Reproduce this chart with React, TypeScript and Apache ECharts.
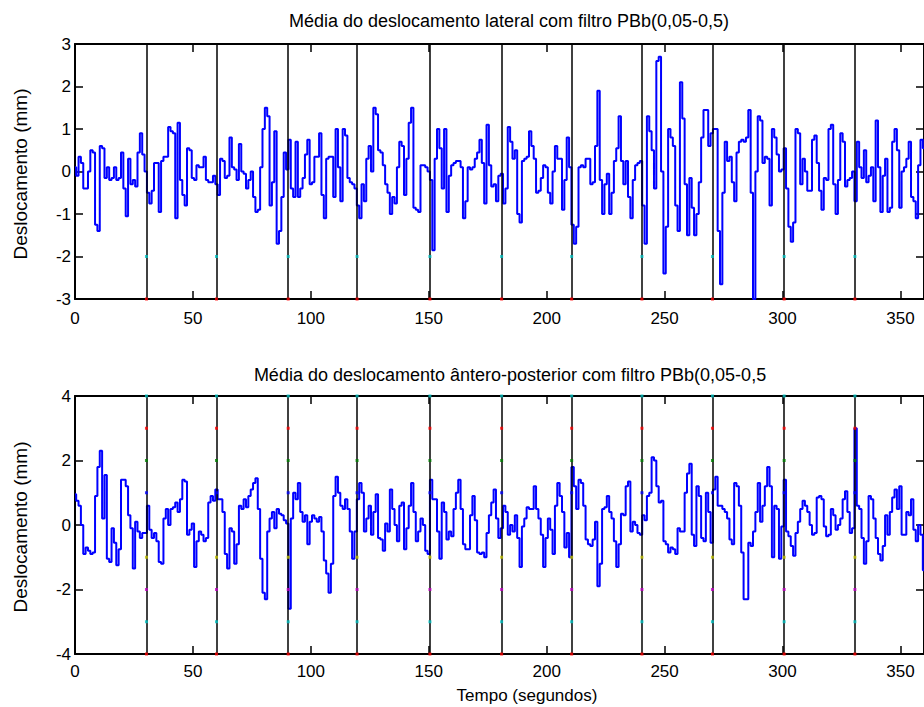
import React, { useEffect, useRef } from "react";
import * as echarts from "echarts";

// sampling step of the signals (seconds)
const timeStep = 1;

// Lateral displacement (mm), one value per second, t = 0..360
const lateralValues = [
  0.1, -0.1, 0.35, 0.2, -0.4, -0.4, 0.0, 0.5, 0.45, -1.25,
  -1.4, 0.6, 0.55, -0.15, 0.1, -0.2, -0.15, 0.1, -0.2, -0.15,
  0.45, -0.4, -1.05, 0.3, -0.3, -0.2, -0.35, 0.45, 0.9, 0.4,
  0.0, -0.5, -0.75, -0.45, 0.2, 0.2, -0.95, 0.25, 0.35, 0.35,
  1.05, 0.95, 0.9, -1.1, 1.15, -0.2, -0.55, -0.8, 0.55, 0.5,
  -0.15, -0.2, 0.15, 0.1, 0.1, 0.35, -0.2, -0.25, -0.25, -0.1,
  -0.3, -0.55, 0.3, 0.25, -0.15, -0.1, 0.8, 0.1, 0.05, -0.2,
  0.65, 0.0, -0.05, -0.4, -0.2, 0.0, -0.6, -0.95, -0.9, 0.1,
  1.0, 1.5, 1.3, -0.8, -0.25, 0.95, -1.7, -1.4, -0.6, 0.45,
  0.05, 0.75, -0.4, -0.6, 0.7, -0.6, -0.4, -0.15, 0.4, 0.75,
  -0.3, -0.25, 0.35, 0.35, 0.9, -0.55, -1.1, 0.3, 0.35, 0.35,
  -0.6, 1.0, 0.1, -0.7, 1.0, 0.85, -0.15, -0.25, -0.3, -0.4,
  -0.8, -1.1, -0.3, -0.7, 0.3, 0.6, 0.0, 1.5, 1.35, 0.5,
  0.45, 0.15, -0.3, -0.5, -1.0, -0.6, -0.75, 0.1, 0.7, 0.6,
  -0.55, 0.3, 1.15, 1.5, -0.85, -0.9, -0.95, 0.15, 0.15, 0.1,
  0.0, -0.2, -1.85, 0.3, 1.0, 0.55, -0.4, 1.0, -0.95, -0.1,
  0.15, 0.2, 0.25, 0.25, 0.1, -1.1, -0.7, 0.1, 0.05, 0.1,
  0.3, 0.45, 0.75, 0.2, -0.75, 1.1, 0.15, -0.35, -0.3, -0.7,
  -0.1, -0.05, -0.75, -0.4, 1.05, 0.7, 0.3, 0.5, -1.0, -1.2,
  0.25, 0.3, 0.35, 0.95, 0.6, 0.3, -0.5, -0.45, -0.15, 0.15,
  0.1, -0.5, -0.75, 0.0, 0.6, 0.3, 0.3, -0.9, -0.2, 0.8,
  0.1, -1.25, -1.7, -1.3, 0.1, 0.15, 0.1, 0.3, 0.3, -0.3,
  -0.25, 0.6, 1.9, -0.2, -1.0, -0.3, -0.05, -1.0, -0.5, 0.25,
  0.55, 1.3, 0.25, -0.3, 0.25, -0.6, -1.1, -0.2, 0.15, 0.2,
  0.25, -0.8, -1.7, 1.3, 0.95, 0.5, -0.4, 2.6, 2.7, 0.0,
  -2.4, -1.3, 1.0, 0.8, 0.6, -0.8, -1.4, 2.1, 1.25, -0.3,
  -1.5, -0.15, -0.85, -1.5, -1.0, -0.25, 0.8, 1.45, 1.45, 0.6,
  0.9, 1.0, 1.0, -1.4, -2.65, -0.5, 0.7, 0.25, 0.35, -0.25,
  -0.7, 0.45, 0.7, 0.75, 0.7, 0.8, 1.45, -0.5, -3.0, 0.0,
  1.3, 1.2, 0.2, 0.35, 0.3, -0.8, 1.0, 0.8, 0.4, 0.0,
  0.05, 0.55, -0.4, -1.3, -1.65, -1.2, 1.0, 0.9, -0.3, 0.3,
  0.0, -0.45, -0.45, 0.75, 0.85, 0.2, -0.45, -0.9, -0.15, -0.2,
  1.0, 1.1, -0.3, -1.0, -0.2, 0.9, 0.7, -0.35, -0.2, -0.15,
  0.0, -0.7, 0.7, 0.1, -0.15, 0.5, -0.25, -0.1, 0.1, -0.7,
  1.2, 0.1, -0.95, -0.1, 0.3, -0.95, -0.85, 0.7, 1.0, 0.5,
  -0.85, 0.0, 0.1, 0.3, 0.7, -0.6, -0.7, -1.1, 0.15, 0.75, 0.55,
];

// Antero-posterior displacement (mm), one value per second, t = 0..360
const apValues = [
  0.95, 0.75, 0.6, 0.0, -0.9, -0.7, -0.8, -0.9, -0.85, 0.9,
  1.8, 2.3, 0.2, 1.55, -1.05, -1.15, -0.1, -0.55, -1.25, -0.75,
  1.4, 1.4, 1.2, 0.3, -0.1, -1.35, 0.1, -0.2, -0.4, -0.25,
  -0.25, 0.6, -0.15, -0.4, -0.25, -0.5, -1.15, -1.2, 0.2, 0.5,
  0.0, 0.5, 0.55, 0.7, 0.4, 0.8, 1.4, 1.35, -0.3, -0.15,
  0.05, -1.3, -0.5, -0.2, -0.3, -0.5, -0.4, 0.7, 0.9, 0.75,
  1.1, 0.8, 0.8, 0.4, -0.9, -1.35, -0.1, -0.2, -1.2, -0.6,
  0.6, 0.5, 0.8, 0.55, 0.9, 1.1, 1.3, 1.45, 0.5, -1.05,
  -2.1, -2.3, -0.2, 0.2, 0.4, -0.1, 0.5, 0.35, 0.3, 0.15,
  0.05, -2.6, 0.2, 1.0, 0.8, 1.3, 0.4, 0.1, 0.3, -0.6,
  0.1, 0.3, 0.2, 0.1, 0.25, -0.2, -1.1, -1.5, -2.1, -1.2,
  0.9, 1.5, 1.0, 0.6, 0.5, 0.8, 0.5, -0.2, -1.05, -0.2,
  0.8, 1.3, 1.0, -0.2, 0.2, 0.6, -0.3, 0.4, 0.95, -0.4,
  -0.45, -0.8, 0.05, -0.2, 1.1, 0.5, 0.0, -0.5, 0.6, 0.7,
  -0.75, -0.1, 0.6, 1.3, 0.4, -0.5, -0.2, 0.2, 0.0, -0.8,
  -0.9, 1.4, 0.8, 0.8, -0.2, -1.05, 0.7, 0.4, -0.45, -0.2,
  -0.35, 0.5, 1.0, 1.4, 0.5, -0.6, -0.75, -0.75, 0.3, 0.9,
  0.15, -0.85, -0.9, -0.85, -1.0, -0.25, 0.3, 0.7, 1.1, 0.2,
  -0.4, -0.1, 0.6, 0.4, -0.3, 0.0, -0.2, 0.3, -0.4, -1.3,
  -0.05, 0.2, 0.55, 0.5, 0.5, 1.2, 0.5, 0.2, -0.3, -1.3,
  -0.4, 0.2, -0.15, -0.9, 0.6, 1.3, 0.9, 0.4, -0.7, -0.25,
  -1.0, 1.8, 1.2, 0.5, 1.4, 1.3, 0.6, -0.45, -0.6, -0.65,
  -0.45, 0.1, -1.9, -1.2, 0.5, 0.55, 0.9, 0.4, 0.2, -0.5,
  -1.3, -0.6, 0.35, 0.3, 1.2, 1.35, -0.2, 0.1, 0.0, -0.25,
  -0.3, 0.3, 0.15, 0.9, 1.0, 2.1, 2.0, 1.2, 0.7, 0.75,
  -0.5, -0.6, -0.85, -0.7, -0.75, -0.9, -0.1, -0.2, -0.2, 1.0,
  1.6, 1.9, -0.3, -0.65, 1.2, 0.9, -0.4, -0.5, 1.0, 0.4,
  -0.55, 1.1, 1.5, 0.6, 0.6, 0.5, 0.4, 0.2, -0.45, -0.6,
  1.3, 1.2, 0.6, -0.85, -2.3, -2.3, -0.55, -0.65, -0.2, 0.4,
  1.3, 0.1, 0.6, 1.2, 1.8, 1.2, -1.0, 0.6, 0.5, -1.05,
  -0.05, 1.4, -0.2, -0.35, -0.65, -0.95, -0.25, 0.1, 0.5, 0.75,
  0.6, 0.4, 0.0, -0.3, -0.25, 0.85, 0.9, 0.8, -0.05, -0.35,
  -0.3, 0.5, 0.3, -0.15, 0.0, 0.2, 0.8, 1.05, 0.4, -0.25,
  -0.1, 3.0, 0.6, 0.5, -0.4, -1.2, -0.5, 0.9, 0.8, 0.2,
  -0.4, -0.9, -1.1, -0.65, 0.3, -0.3, 0.4, 0.85, 1.1, 0.5,
  1.2, -0.3, -0.3, 0.4, 0.3, 0.8, -0.15, -0.5, 0.0, -0.3, -1.4,
];

// Boundaries between 30 s intervals (seconds)
const intervalBoundaries = [30.3, 60.0, 90.4, 119.6, 150.5, 180.9, 210.6, 240.4, 270.3, 300.7, 330.7];

// small markers drawn on each boundary
const lateralMarkerLevels = [-3, -2];
const lateralMarkerColors = ["#ff0000", "#00bfbf"];
const apMarkerLevels = [4, 3, 2, 1, -1, -2, -3, -4];
const apMarkerColors = ["#00bfbf", "#ff0000", "#008000", "#0000ff", "#bfbf00", "#bf00bf", "#00bfbf", "#ff0000"];

// axes
const xMin = 0;
const xMax = 360;
const xTickValues = [0, 50, 100, 150, 200, 250, 300, 350];
const lateralYRange = [-3, 3];
const lateralYInterval = 1;
const apYRange = [-4, 4];
const apYInterval = 2;

const titleLateral = "Média do deslocamento lateral com filtro PBb(0,05-0,5)";
const titleAP = "Média do deslocamento ântero-posterior com filtro PBb(0,05-0,5";
const yAxisTitle = "Deslocamento (mm)";
const xAxisTitle = "Tempo (segundos)";

const FONT = "'Liberation Sans', Arial, Helvetica, sans-serif";

export default function App() {
  const ref = useRef<HTMLDivElement>(null);

  useEffect(() => {
    if (!ref.current) return;
    const chart = echarts.init(ref.current, undefined, { renderer: "svg" });

    const toSeries = (vals: number[]) => vals.map((v, i) => [i * timeStep, v]);
    const markerData = (levels: number[], colors: string[]) => {
      const out: any[] = [];
      intervalBoundaries.forEach((t) => {
        levels.forEach((lv, k) => {
          out.push({ value: [t, lv], itemStyle: { color: colors[k] } });
        });
      });
      return out;
    };

    const axisLineStyle = { lineStyle: { color: "#000", width: 2 } };
    const tickStyle = { inside: true, length: 8, lineStyle: { color: "#000", width: 1.5 } };

    const mkX = (gridIndex: number, position: "top" | "bottom", labels: boolean, margin: number) => ({
      type: "value",
      gridIndex,
      position,
      min: xMin,
      max: xMax,
      axisLine: { show: true, onZero: false, ...axisLineStyle },
      axisTick: { show: true, ...tickStyle, customValues: xTickValues },
      axisLabel: {
        show: labels,
        customValues: xTickValues,
        color: "#000",
        fontSize: 17,
        fontFamily: FONT,
        margin,
        formatter: (v: number) => (v === xMax ? "" : String(v)),
      },
      splitLine: { show: false },
    });

    const mkY = (gridIndex: number, position: "left" | "right", labels: boolean, range: number[], interval: number) => ({
      type: "value",
      gridIndex,
      position,
      min: range[0],
      max: range[1],
      interval,
      axisLine: { show: true, onZero: false, ...axisLineStyle },
      axisTick: { show: true, ...tickStyle },
      axisLabel: {
        show: labels,
        color: "#000",
        fontSize: 17,
        fontFamily: FONT,
        margin: 4,
      },
      splitLine: { show: false },
    });

    const boundaryMarkLine = {
      silent: true,
      symbol: "none",
      label: { show: false },
      lineStyle: { color: "#000", width: 1.5, type: "solid" },
      data: intervalBoundaries.map((t) => ({ xAxis: t })),
    };

    const option: any = {
      animation: false,
      backgroundColor: "#fff",
      grid: [
        { left: 75, top: 44, width: 850, height: 255 },
        { left: 75, top: 396, width: 850, height: 258 },
      ],
      xAxis: [
        mkX(0, "bottom", true, 11),
        mkX(0, "top", false, 8),
        mkX(1, "bottom", true, 9),
        mkX(1, "top", false, 8),
      ],
      yAxis: [
        mkY(0, "left", true, lateralYRange, lateralYInterval),
        mkY(0, "right", false, lateralYRange, lateralYInterval),
        mkY(1, "left", true, apYRange, apYInterval),
        mkY(1, "right", false, apYRange, apYInterval),
      ],
      series: [
        {
          type: "line",
          xAxisIndex: 0,
          yAxisIndex: 0,
          data: toSeries(lateralValues),
          step: "middle",
          showSymbol: false,
          lineStyle: { color: "#0000ff", width: 2 },
          z: 2,
          markLine: boundaryMarkLine,
        },
        {
          type: "scatter",
          xAxisIndex: 0,
          yAxisIndex: 0,
          data: markerData(lateralMarkerLevels, lateralMarkerColors),
          symbol: "rect",
          symbolSize: 3,
          z: 5,
          silent: true,
        },
        {
          type: "line",
          xAxisIndex: 2,
          yAxisIndex: 2,
          data: toSeries(apValues),
          step: "middle",
          showSymbol: false,
          lineStyle: { color: "#0000ff", width: 2 },
          z: 2,
          markLine: boundaryMarkLine,
        },
        {
          type: "scatter",
          xAxisIndex: 2,
          yAxisIndex: 2,
          data: markerData(apMarkerLevels, apMarkerColors),
          symbol: "rect",
          symbolSize: 3,
          z: 5,
          silent: true,
        },
      ],
      graphic: [
        {
          type: "text",
          x: 509,
          y: 20.5,
          style: { text: titleLateral, fill: "#000", font: `18px ${FONT}`, align: "center", verticalAlign: "middle" },
        },
        {
          type: "text",
          x: 510,
          y: 374.5,
          style: { text: titleAP, fill: "#000", font: `18px ${FONT}`, align: "center", verticalAlign: "middle" },
        },
        {
          type: "text",
          x: 20,
          y: 174,
          rotation: Math.PI / 2,
          style: { text: yAxisTitle, fill: "#000", font: `19px ${FONT}`, align: "center", verticalAlign: "middle" },
        },
        {
          type: "text",
          x: 20,
          y: 527,
          rotation: Math.PI / 2,
          style: { text: yAxisTitle, fill: "#000", font: `19px ${FONT}`, align: "center", verticalAlign: "middle" },
        },
        {
          type: "text",
          x: 527,
          y: 695,
          style: { text: xAxisTitle, fill: "#000", font: `17px ${FONT}`, align: "center", verticalAlign: "middle" },
        },
      ],
    };

    chart.setOption(option);
    return () => chart.dispose();
  }, []);

  return (
    <div
      ref={ref}
      style={{ position: "absolute", left: 0, top: 0, width: 924, height: 707, background: "#fff" }}
    />
  );
}
